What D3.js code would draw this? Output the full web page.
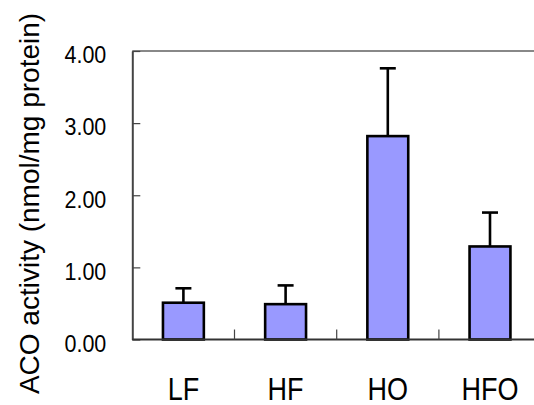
<!DOCTYPE html>
<html>
<head>
<meta charset="utf-8">
<script src="https://cdn.jsdelivr.net/npm/d3@7"></script>
<style>
  body { margin: 0; background: #fff; }
  svg { display: block; font-family: Arial, 'Liberation Sans', sans-serif; }
</style>
</head>
<body>
<svg id="chart"></svg>
<script>
// Chart data
const groups = ['LF', 'HF', 'HO', 'HFO'];
const means = [0.51, 0.49, 2.82, 1.29];
const errors = [0.2, 0.26, 0.94, 0.47];
const yTicks = [0, 1, 2, 3, 4];
const yTitle = 'ACO activity (nmol/mg protein)';

const width = 534;
const height = 405;
// the plot runs past the right edge of the picture, as in the original
const padding = { top: 51, left: 132.3, bottom: 65.5 };
const plotWidth = 408.8;
const plotHeight = height - padding.top - padding.bottom;

const svg = d3.select('#chart').attr('width', width).attr('height', height);
const canvas = svg.append('g').attr('transform', `translate(${padding.left}, ${padding.top})`);

const x = d3.scaleBand().domain(groups).range([0, plotWidth]).paddingInner(0.6).paddingOuter(0.3);
const y = d3.scaleLinear().domain([0, 4]).range([plotHeight, 0]);

drawFrame(canvas);
drawBars(canvas);
drawAxes(canvas);
drawTitle(svg);

function drawFrame(g) {
  // grey top border
  g.append('line')
    .attr('x1', 0)
    .attr('x2', plotWidth)
    .attr('y1', y(4))
    .attr('y2', y(4))
    .attr('stroke', '#888')
    .attr('stroke-width', 2.2);
}

function drawBars(g) {
  const bw = x.bandwidth();
  const rows = groups.map((d, i) => ({ group: d, mean: means[i], err: errors[i] }));

  // error bars first, bars drawn on top
  const err = g.append('g').attr('class', 'errors');
  err.selectAll('line.stem')
    .data(rows)
    .join('line')
    .attr('class', 'stem')
    .attr('x1', (d) => x(d.group) + bw / 2)
    .attr('x2', (d) => x(d.group) + bw / 2)
    .attr('y1', (d) => y(d.mean))
    .attr('y2', (d) => y(d.mean + d.err))
    .attr('stroke', '#000')
    .attr('stroke-width', 2.6);

  err.selectAll('line.cap')
    .data(rows)
    .join('line')
    .attr('class', 'cap')
    .attr('x1', (d) => x(d.group) + bw / 2 - 8)
    .attr('x2', (d) => x(d.group) + bw / 2 + 8)
    .attr('y1', (d) => y(d.mean + d.err))
    .attr('y2', (d) => y(d.mean + d.err))
    .attr('stroke', '#000')
    .attr('stroke-width', 2.6);

  g.append('g')
    .attr('class', 'bars')
    .selectAll('rect')
    .data(rows)
    .join('rect')
    .attr('x', (d) => x(d.group))
    .attr('width', bw)
    .attr('y', (d) => y(d.mean))
    .attr('height', (d) => y(0) - y(d.mean))
    .attr('fill', '#9999ff')
    .attr('stroke', '#000')
    .attr('stroke-width', 2.6);
}

function drawAxes(g) {
  // y axis, ticks pointing into the plot
  const yAxis = g.append('g')
    .attr('class', 'y-axis')
    .call(d3.axisLeft(y).tickValues(yTicks).tickFormat(d3.format('.2f')).tickSizeInner(-8).tickSizeOuter(0).tickPadding(26))
    .attr('font-family', null);

  yAxis.select('.domain').attr('stroke', '#444').attr('stroke-width', 2);
  yAxis.selectAll('.tick line').attr('stroke', '#444').attr('stroke-width', 1.2);
  yAxis.selectAll('.tick text')
    .attr('fill', '#000')
    .attr('font-size', 21.5)
    .attr('dy', '0.48em')
    .attr('transform', 'scale(1, 1.15)');

  // x axis baseline + separators between groups
  const xAxis = g.append('g').attr('class', 'x-axis');
  xAxis.append('line')
    .attr('x1', 0)
    .attr('x2', plotWidth)
    .attr('y1', y(0))
    .attr('y2', y(0))
    .attr('stroke', '#333')
    .attr('stroke-width', 2);

  xAxis.selectAll('line.sep')
    .data(groups.slice(1))
    .join('line')
    .attr('class', 'sep')
    .attr('x1', (d) => x(d) - (x.step() * x.paddingInner()) / 2)
    .attr('x2', (d) => x(d) - (x.step() * x.paddingInner()) / 2)
    .attr('y1', y(0))
    .attr('y2', y(0) - 10)
    .attr('stroke', '#444')
    .attr('stroke-width', 1.2);

  xAxis.selectAll('text')
    .data(groups)
    .join('text')
    .attr('transform', (d) => `translate(${x(d) + x.bandwidth() / 2}, ${y(0) + 60.5}) scale(1, 1.16)`)
    .attr('text-anchor', 'middle')
    .attr('font-size', 27)
    .attr('fill', '#000')
    .text((d) => d);
}

function drawTitle(s) {
  s.append('text')
    .attr('transform', `translate(39, 203.5) rotate(-90)`)
    .attr('text-anchor', 'middle')
    .attr('font-size', 28)
    .attr('fill', '#000')
    .text(yTitle);
}
</script>
</body>
</html>
